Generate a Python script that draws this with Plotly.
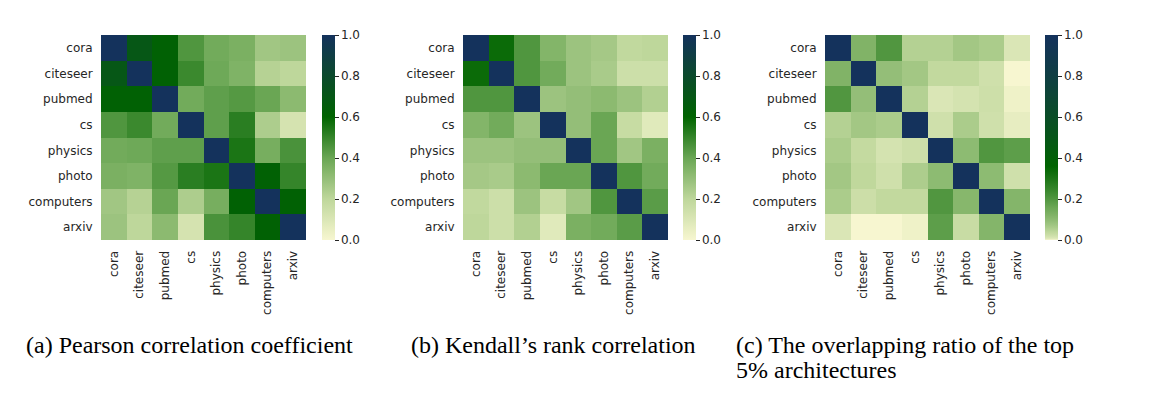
import numpy as np
import plotly.graph_objects as go

labels = ["cora", "citeseer", "pubmed", "cs", "physics", "photo", "computers", "arxiv"]

pearson = [
    [1.00, 0.70, 0.62, 0.45, 0.38, 0.36, 0.27, 0.28],
    [0.70, 1.00, 0.62, 0.49, 0.39, 0.35, 0.22, 0.20],
    [0.62, 0.62, 1.00, 0.38, 0.42, 0.44, 0.40, 0.32],
    [0.45, 0.49, 0.38, 1.00, 0.42, 0.52, 0.24, 0.12],
    [0.38, 0.39, 0.42, 0.42, 1.00, 0.55, 0.37, 0.46],
    [0.36, 0.35, 0.44, 0.52, 0.55, 1.00, 0.62, 0.50],
    [0.27, 0.22, 0.40, 0.24, 0.37, 0.62, 1.00, 0.62],
    [0.28, 0.20, 0.32, 0.12, 0.46, 0.50, 0.62, 1.00],
]

kendall = [
    [1.00, 0.58, 0.45, 0.34, 0.28, 0.26, 0.19, 0.20],
    [0.58, 1.00, 0.45, 0.38, 0.28, 0.25, 0.15, 0.15],
    [0.45, 0.45, 1.00, 0.28, 0.30, 0.32, 0.28, 0.23],
    [0.34, 0.38, 0.28, 1.00, 0.30, 0.40, 0.17, 0.08],
    [0.28, 0.28, 0.30, 0.30, 1.00, 0.40, 0.27, 0.36],
    [0.26, 0.25, 0.32, 0.40, 0.40, 1.00, 0.45, 0.38],
    [0.19, 0.15, 0.28, 0.17, 0.27, 0.45, 1.00, 0.43],
    [0.20, 0.15, 0.23, 0.08, 0.36, 0.38, 0.43, 1.00],
]

overlap = [
    [1.00, 0.12, 0.20, 0.05, 0.05, 0.07, 0.06, 0.01],
    [0.12, 1.00, 0.09, 0.07, 0.035, 0.035, 0.02, 0.00],
    [0.20, 0.09, 1.00, 0.05, 0.01, 0.015, 0.022, 0.002],
    [0.05, 0.07, 0.06, 1.00, 0.02, 0.06, 0.02, 0.004],
    [0.06, 0.033, 0.015, 0.022, 1.00, 0.10, 0.20, 0.18],
    [0.07, 0.038, 0.02, 0.058, 0.10, 1.00, 0.10, 0.02],
    [0.06, 0.023, 0.035, 0.035, 0.20, 0.11, 1.00, 0.115],
    [0.01, 0.00, 0.00, 0.002, 0.18, 0.028, 0.115, 1.00],
]

captions = [
    ["(a) Pearson correlation coefficient"],
    ["(b) Kendall\u2019s rank correlation"],
    ["(c) The overlapping ratio of the top", "5% architectures"],
]

cbar_ticks = [0.0, 0.2, 0.4, 0.6, 0.8, 1.0]

# colour map
stops = [
    (0.0, (247, 246, 208)),
    (0.2, (190, 215, 155)),
    (0.4, (106, 166, 84)),
    (0.6, (0, 100, 0)),
    (0.8, (11, 74, 44)),
    (1.0, (20, 50, 92)),
]


def cmap(t):
    t = min(max(t, 0.0), 1.0)
    for (t0, c0), (t1, c1) in zip(stops[:-1], stops[1:]):
        if t <= t1:
            f = (t - t0) / (t1 - t0) if t1 > t0 else 0
            c = [round(a + (b - a) * f) for a, b in zip(c0, c1)]
            return f"rgb({c[0]},{c[1]},{c[2]})"
    c = stops[-1][1]
    return f"rgb({c[0]},{c[1]},{c[2]})"


scale_lin = [[t, cmap(t)] for t in np.linspace(0, 1, 51)]
scale_sqrt = [[v, cmap(np.sqrt(v))] for v in np.linspace(0, 1, 201)]

OFF = 8  # default page body margin
W, H = 1150 - OFF, 397 - OFF
hm_left = [101 - OFF, 463 - OFF, 825 - OFF]
hm_w = 205
hm_top, hm_bot = 35 - OFF, 240 - OFF
cb_left = [322 - OFF, 683 - OFF, 1045 - OFF]
cap_left = [25 - OFF, 410 - OFF, 735 - OFF]
cap_y = [345 - OFF, 370 - OFF]

TXT = "#262626"
fig = go.Figure()
datasets = [pearson, kendall, overlap]
scales = [scale_lin, scale_lin, scale_sqrt]

for i in range(3):
    sfx = "" if i == 0 else str(i + 1)
    fig.add_trace(go.Heatmap(
        z=datasets[i], x=labels, y=labels,
        zmin=0, zmax=1, colorscale=scales[i],
        xaxis="x" + sfx, yaxis="y" + sfx,
        colorbar=dict(
            x=cb_left[i] / W, xanchor="left",
            y=1 - (hm_top + hm_bot) / 2 / H, yanchor="middle",
            len=hm_bot - hm_top, lenmode="pixels",
            thickness=13, thicknessmode="pixels",
            outlinewidth=0, ticks="outside", ticklen=4, tickcolor=TXT,
            tickvals=cbar_ticks, ticktext=[f"{v:.1f}" for v in cbar_ticks],
            tickfont=dict(family="DejaVu Sans", size=12, color=TXT),
            xpad=0, ypad=0,
        ),
    ))
    fig.update_layout(**{
        "xaxis" + sfx: dict(
            domain=[hm_left[i] / W, (hm_left[i] + hm_w) / W],
            anchor="y" + sfx, tickangle=-90, showgrid=False, zeroline=False,
            ticks="outside", ticklen=5, tickcolor="rgba(0,0,0,0)",
            tickfont=dict(family="DejaVu Sans", size=12, color=TXT),
            showline=False,
        ),
        "yaxis" + sfx: dict(
            domain=[1 - hm_bot / H, 1 - hm_top / H],
            anchor="x" + sfx, autorange="reversed", showgrid=False, zeroline=False,
            ticks="outside", ticklen=5, tickcolor="rgba(0,0,0,0)",
            tickfont=dict(family="DejaVu Sans", size=12, color=TXT),
            showline=False,
        ),
    })
    for j, line in enumerate(captions[i]):
        fig.add_annotation(
            text=line, xref="paper", yref="paper",
            x=cap_left[i] / W, y=1 - cap_y[j] / H, xanchor="left", yanchor="middle",
            align="left", showarrow=False, borderpad=0,
            font=dict(family="Liberation Serif", size=24, color="black"),
        )

fig.update_layout(
    width=W, height=H, margin=dict(l=0, r=0, t=0, b=0),
    paper_bgcolor="white", plot_bgcolor="white", showlegend=False,
)

fig.write_html("out.html")
